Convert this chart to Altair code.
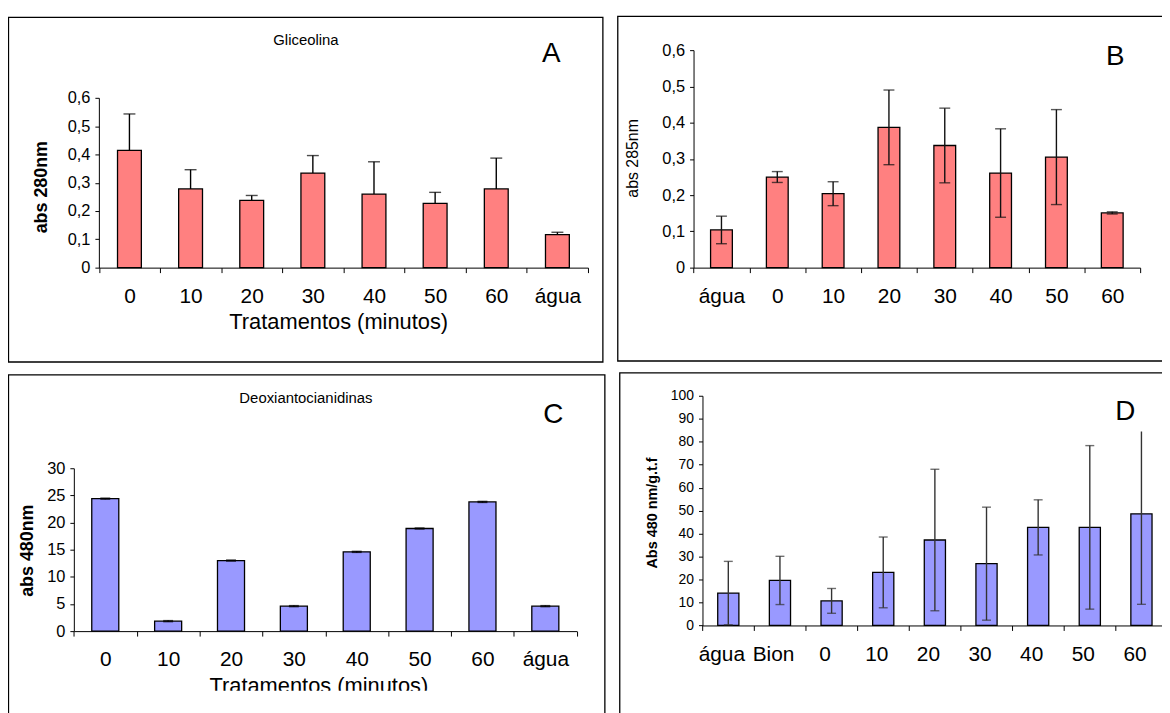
import altair as alt
import pandas as pd

FONT = "Liberation Sans"
W, H = 1162, 705

# ---------------- data ----------------
a_cat = ["0", "10", "20", "30", "40", "50", "60", "água"]
a_val = [0.414, 0.278, 0.238, 0.334, 0.260, 0.227, 0.278, 0.117]
a_err = [0.129, 0.068, 0.017, 0.062, 0.114, 0.039, 0.109, 0.008]

b_cat = ["água", "0", "10", "20", "30", "40", "50", "60"]
b_val = [0.104, 0.250, 0.204, 0.387, 0.337, 0.261, 0.305, 0.151]
b_err = [0.038, 0.015, 0.033, 0.103, 0.103, 0.122, 0.131, 0.003]

c_cat = ["0", "10", "20", "30", "40", "50", "60", "água"]
c_val = [24.4, 1.84, 13.0, 4.6, 14.6, 18.9, 23.8, 4.6]
c_err = [0.1, 0.1, 0.1, 0.1, 0.1, 0.1, 0.1, 0.1]

d_cat = ["água", "Bion", "0", "10", "20", "30", "40", "50", "60"]
d_val = [14.1, 19.6, 10.7, 23.1, 37.2, 26.9, 42.7, 42.7, 48.6]
d_err = [13.8, 10.5, 5.4, 15.4, 30.8, 24.6, 12.0, 35.6, 39.4]

RED = "#FF8080"
BLUE = "#9999FF"

one = pd.DataFrame({"k": [0]})


def make_df(cats, vals, errs, upward_only):
    rows = []
    for c, v, e in zip(cats, vals, errs):
        lo = v if upward_only else v - e
        rows.append({"cat": c, "val": v, "lo": lo, "hi": v + e})
    return pd.DataFrame(rows)


def panel(df, cats, ydom, yticks, xr, yr, color, frac, cap, label_expr,
          ylab_size, xlab_offset=0, lower_cap=True, err_color="#111"):
    xs = alt.Scale(domain=cats, range=xr, paddingInner=0, paddingOuter=0)
    ys = alt.Scale(domain=ydom, range=yr, nice=False, zero=True)
    xaxis = alt.Axis(orient="bottom", offset=yr[0] - H, title=None, tickBand="extent",
                     tickSize=5, labelPadding=13, labelFontSize=21, labelFont=FONT,
                     labelColor="#000", domainColor="#000", tickColor="#000",
                     labelAngle=0, labelOverlap=False, labelOffset=xlab_offset, grid=False)
    yaxis = alt.Axis(orient="left", offset=-xr[0], title=None, values=yticks,
                     tickSize=4, labelPadding=5, labelFontSize=ylab_size, labelFont=FONT,
                     labelColor="#000", domainColor="#000", tickColor="#000",
                     labelExpr=label_expr, labelOverlap=False, grid=False)
    x = alt.X("cat:N", scale=xs, axis=xaxis)
    base = alt.Chart(df)
    bars = base.mark_bar(width=alt.RelativeBandSize(band=frac), fill=color,
                         stroke="#000", strokeWidth=1.3).encode(
        x=x, y=alt.Y("val:Q", scale=ys, axis=yaxis))
    rule = base.mark_rule(color=err_color, strokeWidth=1.4).encode(
        x=alt.X("cat:N"), y=alt.Y("lo:Q"), y2="hi:Q")
    top = base.mark_tick(color=err_color, size=cap, thickness=1.4).encode(
        x=alt.X("cat:N"), y=alt.Y("hi:Q"))
    layers = [bars, rule, top]
    if lower_cap:
        bot = base.mark_tick(color=err_color, size=cap, thickness=1.4).encode(
            x=alt.X("cat:N"), y=alt.Y("lo:Q"))
        layers.append(bot)
    return alt.layer(*layers)


def frame(x1, x2, y1, y2):
    return alt.Chart(one).mark_rect(fillOpacity=0, stroke="#000", strokeWidth=1.3).encode(
        x=alt.value(x1), x2=alt.value(x2), y=alt.value(y1), y2=alt.value(y2))


def whitebox(x1, x2, y1, y2):
    return alt.Chart(one).mark_rect(fill="white", strokeOpacity=0).encode(
        x=alt.value(x1), x2=alt.value(x2), y=alt.value(y1), y2=alt.value(y2))


def label(txt, x, y, size, bold=False, angle=0):
    kw = dict(font=FONT, fontSize=size, color="#000", align="center", baseline="middle")
    if bold:
        kw["fontWeight"] = "bold"
    if angle:
        kw["angle"] = angle
    return alt.Chart(one).mark_text(**kw).encode(
        x=alt.value(x), y=alt.value(y), text=alt.value(txt))


dec_expr = "datum.value == 0 ? '0' : replace(format(datum.value, '.1f'), '.', ',')"
int_expr = "format(datum.value, 'd')"

pA = panel(make_df(a_cat, a_val, a_err, True), a_cat, [0, 0.6],
           [0, 0.1, 0.2, 0.3, 0.4, 0.5, 0.6], [91.5, 584], [259, 88], RED, 0.39, 12,
           dec_expr, 16.5, lower_cap=False, err_color="#000")
pB = panel(make_df(b_cat, b_val, b_err, False), b_cat, [0, 0.6],
           [0, 0.1, 0.2, 0.3, 0.4, 0.5, 0.6], [690.3, 1140], [259, 40], RED, 0.39, 11,
           dec_expr, 16.5, err_color="#111")
pC = panel(make_df(c_cat, c_val, c_err, False), c_cat, [0, 30],
           [0, 5, 10, 15, 20, 25, 30], [66.3, 572.7], [625, 461], BLUE, 0.43, 10,
           int_expr, 16.5, err_color="#000")
pD = panel(make_df(d_cat, d_val, d_err, False), d_cat, [0, 100],
           list(range(0, 101, 10)), [699.3, 1167.3], [619.3, 388], BLUE, 0.41, 9,
           int_expr, 14, xlab_offset=-7, err_color="#333")

layers = [
    frame(0.5, 599, 7, 354),
    frame(614, 1175, 6, 353),
    frame(0.5, 601, 367, 720),
    frame(616, 1175, 365, 720),
    pA, pB, pC, pD,
    # panel A texts
    label("Gliceolina", 300, 30, 15),
    label("A", 547, 44, 28),
    label("abs 280nm", 34, 178, 18, bold=True, angle=270),
    label("Tratamentos (minutos)", 333, 314, 22),
    # panel B texts
    label("B", 1115, 47, 28),
    label("abs 285nm", 629, 149, 16, angle=270),
    # panel C texts
    label("Deoxiantocianidinas", 300, 390, 15),
    label("C", 549, 407, 28),
    label("abs 480nm", 20, 544, 18, bold=True, angle=270),
    label("Tratamentos (minutos)", 313, 680, 22),
    whitebox(525, 590, 416, 445),
    whitebox(2, 598, 685, 712),
    # panel D texts
    whitebox(1095, 1162, 384, 424),
    label("D", 1125, 404, 28),
    label("Abs 480 nm/g.t.f", 649, 506, 14.5, bold=True, angle=270),
]

chart = alt.layer(*layers).resolve_scale(x="independent", y="independent").properties(
    width=W, height=H,
    autosize=alt.AutoSizeParams(type="none"),
    padding=0,
    background="white",
).configure_view(strokeOpacity=0)

chart.save("out.html", embed_options={"renderer": "svg", "actions": False})
